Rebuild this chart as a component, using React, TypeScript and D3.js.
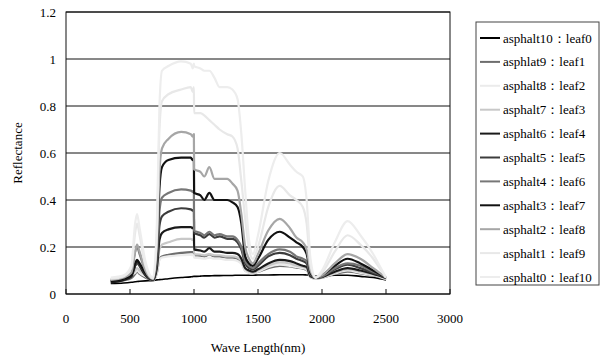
import React from 'react';
import * as d3 from 'd3';

// wavelengths (nm) shared by every series
const WAVELENGTHS = [
  350, 450, 510, 540, 555, 575, 620, 680,
  710, 730, 750, 800, 900, 975, 990, 999,
  1001, 1050, 1080, 1120, 1160, 1200, 1260, 1300,
  1340, 1370, 1400, 1430, 1460, 1500, 1580, 1670,
  1750, 1800, 1850, 1880, 1910, 1950, 2000, 2100,
  2200, 2300, 2400, 2450, 2500,
];

const LEAF0 = [
  0.045, 0.047, 0.05, 0.052, 0.053, 0.054, 0.056, 0.058,
  0.06, 0.061, 0.062, 0.065, 0.07, 0.073, 0.074, 0.075,
  0.075, 0.076, 0.077, 0.077, 0.078, 0.078, 0.079, 0.079,
  0.08, 0.08, 0.08, 0.08, 0.08, 0.081, 0.081, 0.082,
  0.082, 0.082, 0.082, 0.081, 0.08, 0.075, 0.077, 0.08,
  0.08, 0.075, 0.07, 0.065, 0.06,
];
const LEAF1 = [
  0.05, 0.058, 0.068, 0.085, 0.095, 0.085, 0.07, 0.058,
  0.09, 0.15, 0.16, 0.167, 0.175, 0.178, 0.178, 0.18,
  0.165, 0.163, 0.16, 0.168, 0.16, 0.16, 0.155, 0.155,
  0.15, 0.135, 0.1, 0.092, 0.09, 0.095, 0.11, 0.12,
  0.117, 0.112, 0.108, 0.103, 0.072, 0.066, 0.07, 0.085,
  0.095, 0.088, 0.078, 0.072, 0.062,
];
const LEAF2 = [
  0.065, 0.07, 0.08, 0.09, 0.1, 0.09, 0.075, 0.06,
  0.09, 0.145, 0.155, 0.16, 0.165, 0.166, 0.165, 0.166,
  0.155, 0.153, 0.15, 0.155, 0.15, 0.15, 0.145, 0.145,
  0.14, 0.128, 0.1, 0.09, 0.088, 0.095, 0.115, 0.125,
  0.12, 0.115, 0.11, 0.105, 0.072, 0.066, 0.07, 0.087,
  0.1, 0.09, 0.08, 0.074, 0.064,
];
const LEAF3 = [
  0.06, 0.068, 0.08, 0.1, 0.11, 0.1, 0.08, 0.06,
  0.1, 0.19, 0.21, 0.22, 0.235, 0.235, 0.23, 0.235,
  0.17, 0.168, 0.165, 0.17, 0.165, 0.165, 0.16, 0.16,
  0.155, 0.14, 0.105, 0.095, 0.09, 0.1, 0.12, 0.135,
  0.13, 0.12, 0.115, 0.11, 0.075, 0.068, 0.072, 0.09,
  0.105, 0.095, 0.082, 0.076, 0.065,
];
const LEAF4 = [
  0.05, 0.06, 0.075, 0.12, 0.14, 0.12, 0.08, 0.06,
  0.11, 0.23, 0.26, 0.275, 0.285, 0.285, 0.28, 0.285,
  0.19, 0.185, 0.18, 0.195, 0.18, 0.18, 0.175, 0.175,
  0.17, 0.15, 0.11, 0.1, 0.095, 0.105, 0.13, 0.145,
  0.14, 0.13, 0.12, 0.115, 0.075, 0.068, 0.072, 0.095,
  0.11, 0.1, 0.085, 0.078, 0.068,
];
const LEAF5 = [
  0.055, 0.065, 0.08, 0.12, 0.13, 0.12, 0.085, 0.06,
  0.13, 0.29, 0.33, 0.35, 0.365, 0.36, 0.355, 0.36,
  0.26, 0.25, 0.24, 0.255, 0.24, 0.245, 0.235, 0.235,
  0.22, 0.19, 0.13, 0.11, 0.105, 0.12, 0.16, 0.175,
  0.165, 0.15, 0.14, 0.13, 0.08, 0.07, 0.075, 0.105,
  0.125, 0.11, 0.09, 0.08, 0.07,
];
const LEAF6 = [
  0.06, 0.07, 0.085, 0.18, 0.2, 0.17, 0.1, 0.065,
  0.15, 0.35, 0.41, 0.43, 0.445, 0.44, 0.435, 0.44,
  0.27, 0.26, 0.25, 0.265, 0.25, 0.255, 0.245, 0.245,
  0.23, 0.2, 0.14, 0.12, 0.11, 0.13, 0.17, 0.19,
  0.18, 0.16, 0.15, 0.14, 0.085, 0.07, 0.075, 0.11,
  0.13, 0.12, 0.095, 0.085, 0.07,
];
const LEAF7 = [
  0.055, 0.065, 0.08, 0.13, 0.145, 0.13, 0.09, 0.065,
  0.17, 0.45, 0.54, 0.57, 0.58, 0.58, 0.57, 0.575,
  0.43, 0.42, 0.4, 0.43, 0.4, 0.4, 0.4, 0.39,
  0.37, 0.3, 0.16, 0.13, 0.12, 0.15, 0.23, 0.265,
  0.24, 0.22, 0.2, 0.17, 0.09, 0.07, 0.08, 0.12,
  0.15, 0.13, 0.1, 0.085, 0.07,
];
const LEAF8 = [
  0.06, 0.07, 0.09, 0.18, 0.21, 0.18, 0.1, 0.065,
  0.2, 0.52, 0.62, 0.66, 0.69, 0.68, 0.67, 0.68,
  0.53, 0.52, 0.5, 0.54, 0.49, 0.49, 0.49, 0.47,
  0.44, 0.34, 0.2, 0.15, 0.13, 0.17, 0.27, 0.32,
  0.28, 0.24, 0.22, 0.19, 0.1, 0.07, 0.08, 0.13,
  0.17, 0.15, 0.11, 0.09, 0.07,
];
const LEAF9 = [
  0.065, 0.075, 0.11, 0.26, 0.3, 0.25, 0.12, 0.065,
  0.25, 0.7, 0.82, 0.85, 0.87, 0.88, 0.86, 0.88,
  0.77, 0.77, 0.76, 0.74, 0.72, 0.7, 0.68, 0.67,
  0.62, 0.48, 0.32, 0.19, 0.15, 0.2, 0.37, 0.46,
  0.42, 0.4, 0.37, 0.3, 0.12, 0.07, 0.09, 0.18,
  0.25, 0.21, 0.15, 0.11, 0.07,
];
const LEAF10 = [
  0.07, 0.08, 0.12, 0.3, 0.34, 0.28, 0.14, 0.07,
  0.3, 0.8, 0.95, 0.97, 0.99, 0.98, 0.96, 0.98,
  0.97, 0.96, 0.95, 0.95, 0.92, 0.88, 0.88, 0.87,
  0.83, 0.68, 0.44, 0.23, 0.17, 0.25, 0.48, 0.6,
  0.55, 0.52, 0.5, 0.4, 0.15, 0.07, 0.1, 0.22,
  0.31, 0.25, 0.17, 0.12, 0.07,
];

const SERIES_NAMES = [
  'asphalt10：leaf0', 'asphlat9：leaf1', 'asphalt8：leaf2', 'asphalt7：leaf3',
  'asphalt6：leaf4', 'asphalt5：leaf5', 'asphalt4：leaf6', 'asphalt3：leaf7',
  'asphalt2：leaf8', 'asphalt1：leaf9', 'asphalt0：leaf10',
];
const SERIES_VALUES = [LEAF0, LEAF1, LEAF2, LEAF3, LEAF4, LEAF5, LEAF6, LEAF7, LEAF8, LEAF9, LEAF10];
const SERIES_COLORS = [
  '#000000', '#6e6e6e', '#ebebeb', '#c8c8c8', '#1a1a1a', '#3c3c3c',
  '#777777', '#111111', '#a6a6a6', '#e8e8e8', '#ededed',
];

const X_TICKS = [0, 500, 1000, 1500, 2000, 2500, 3000];
const Y_TICKS = [0, 0.2, 0.4, 0.6, 0.8, 1, 1.2];

const W = 602;
const H = 358;
const FONT_CSS = `
  svg.spec text {
    font-family: "Liberation Serif", "Times New Roman", Tinos, "Nimbus Roman", "DejaVu Serif", serif;
    font-size: 13px;
  }
`;

export default function App() {
  const plot = { left: 66, right: 450, top: 12, bottom: 294 };

  const x = d3.scaleLinear().domain([0, 3000]).range([plot.left, plot.right]);
  const y = d3.scaleLinear().domain([0, 1.2]).range([plot.bottom, plot.top]);

  const line = d3.line<number>()
    .x((_, i) => x(WAVELENGTHS[i]))
    .y(d => y(d))
    .curve(d3.curveMonotoneX);

  // legend placement
  const legend = { x: 476, y: 22, w: 123, h: 263 };
  const itemStep = 23.9;
  const itemStart = 38;

  return (
    <svg
      className="spec"
      width={W}
      height={H}
      style={{ position: 'absolute', left: 0, top: 0, background: '#fff' }}
    >
      <style>{FONT_CSS}</style>
      <rect x={0} y={0} width={W} height={H} fill="#fff" />

      {/* gridlines */}
      {Y_TICKS.map(t => (
        <line key={t} x1={plot.left} x2={plot.right} y1={y(t)} y2={y(t)} stroke="#111" strokeWidth={1} />
      ))}
      <rect
        x={plot.left}
        y={plot.top}
        width={plot.right - plot.left}
        height={plot.bottom - plot.top}
        fill="none"
        stroke="#111"
        strokeWidth={1}
      />

      {/* x ticks */}
      {X_TICKS.map(t => (
        <g key={t}>
          <line x1={x(t)} x2={x(t)} y1={plot.bottom - 5} y2={plot.bottom} stroke="#111" />
          <text x={x(t)} y={323} textAnchor="middle" fill="#000">{t}</text>
        </g>
      ))}

      {/* y tick labels */}
      {Y_TICKS.map(t => (
        <text key={t} x={56} y={y(t) + 4.5} textAnchor="end" fill="#000">
          {d3.format('~g')(t)}
        </text>
      ))}

      {/* series */}
      {SERIES_VALUES.map((vals, i) => (
        <path
          key={SERIES_NAMES[i]}
          d={line(vals) || ''}
          fill="none"
          stroke={SERIES_COLORS[i]}
          strokeWidth={i === 0 ? 1.6 : 2.2}
          strokeLinejoin="round"
        />
      ))}

      {/* axis titles */}
      <text x={(plot.left + plot.right) / 2} y={352} textAnchor="middle" fill="#000">
        Wave Length(nm)
      </text>
      <text
        transform={`translate(22, ${(plot.top + plot.bottom) / 2}) rotate(-90)`}
        textAnchor="middle"
        fill="#000"
      >
        Reflectance
      </text>

      {/* legend */}
      <rect x={legend.x} y={legend.y} width={legend.w} height={legend.h} fill="#fff" stroke="#444" strokeWidth={1} />
      {SERIES_NAMES.map((name, i) => {
        const cy = itemStart + i * itemStep;
        return (
          <g key={name}>
            <line x1={480} x2={500} y1={cy} y2={cy} stroke={SERIES_COLORS[i]} strokeWidth={2} />
            <text x={503} y={cy + 4.5} fill="#000">{name}</text>
          </g>
        );
      })}
    </svg>
  );
}
